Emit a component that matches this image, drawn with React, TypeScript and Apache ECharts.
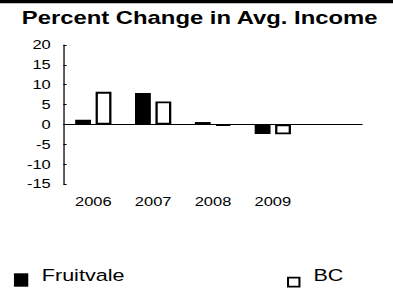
import React, { useEffect, useRef } from "react";
import * as echarts from "echarts";

const categories = ["2006", "2007", "2008", "2009", ""];
const fruitvale = [1.2, 7.9, 0.6, -2.4];
const bc = [8.2, 5.8, -0.3, -2.5];
const yTicks = { min: -15, max: 20, interval: 5 };

const FONT = "'Liberation Sans', Arial, sans-serif";
const SX = 393 / 310;

export default function App() {
  const ref = useRef<HTMLDivElement>(null);
  useEffect(() => {
    if (!ref.current) return;
    const chart = echarts.init(ref.current, undefined, { renderer: "svg" });
    const iconText = { fontFamily: FONT, fontSize: 4, color: "#000" };
    const labelText = { fontFamily: FONT, fontSize: 17, color: "#000" };
    chart.setOption({
      animation: false,
      backgroundColor: "#fff",
      textStyle: { fontFamily: FONT, color: "#000" },
      title: {
        text: "Percent Change in Avg. Income",
        left: 157.5,
        textAlign: "center",
        top: 8,
        padding: 0,
        textStyle: { fontFamily: FONT, fontSize: 18.8, fontWeight: "bold", color: "#000" },
      },
      graphic: [
        { type: "rect", left: 0, top: 0, shape: { x: 0, y: 0, width: 310, height: 3.2 }, style: { fill: "#000" } },
      ],
      legend: [
        {
          data: [{ name: "Fruitvale", itemStyle: { color: "#000", borderWidth: 0 } }],
          left: 11,
          top: 273.3,
          padding: 0,
          icon: "rect",
          itemWidth: 11.3,
          itemHeight: 13.4,
          selectedMode: false,
          formatter: () => "",
          textStyle: iconText,
        },
        {
          data: [{ name: "BC", itemStyle: { color: "#fff", borderColor: "#000", borderWidth: 1.6 } }],
          left: 226.4,
          top: 276.8,
          padding: 0,
          icon: "rect",
          itemWidth: 9,
          itemHeight: 9,
          selectedMode: false,
          formatter: () => "",
          textStyle: iconText,
        },
        {
          data: ["Fruitvale"],
          left: 28,
          top: 266.8,
          padding: 0,
          icon: "none",
          itemWidth: 0,
          itemHeight: 10,
          selectedMode: false,
          textStyle: labelText,
        },
        {
          data: ["BC"],
          left: 242.2,
          top: 266.5,
          padding: 0,
          icon: "none",
          itemWidth: 0,
          itemHeight: 10,
          selectedMode: false,
          textStyle: labelText,
        },
      ],
      grid: { left: 50, right: 24, top: 45, bottom: 104, containLabel: false },
      xAxis: {
        type: "category",
        data: categories,
        axisLine: { show: false, onZero: false },
        axisTick: { show: false },
        axisLabel: { fontFamily: FONT, fontSize: 13, color: "#000", margin: 11, interval: 0 },
        splitLine: { show: false },
      },
      yAxis: {
        type: "value",
        min: yTicks.min,
        max: yTicks.max,
        interval: yTicks.interval,
        axisLine: { show: true, lineStyle: { color: "#000", width: 1 } },
        axisTick: { show: true, inside: true, length: 2.5, lineStyle: { color: "#000", width: 1 } },
        axisLabel: { fontFamily: FONT, fontSize: 13, color: "#000", margin: 10 },
        splitLine: { show: false },
      },
      series: [
        {
          name: "Fruitvale",
          type: "bar",
          data: fruitvale,
          barWidth: 12.5,
          barGap: "29%",
          itemStyle: { color: "#000", borderColor: "#000", borderWidth: 1.8 },
          markLine: {
            silent: true,
            symbol: "none",
            label: { show: false },
            lineStyle: { color: "#000", width: 1, type: "solid" },
            data: [{ yAxis: 0 }],
          },
        },
        {
          name: "BC",
          type: "bar",
          data: bc,
          barWidth: 12.5,
          barGap: "29%",
          itemStyle: { color: "#fff", borderColor: "#000", borderWidth: 1.8 },
        },
      ],
    });
    return () => chart.dispose();
  }, []);
  return (
    <div style={{ position: "fixed", left: 0, top: 0, width: 393, height: 288, overflow: "hidden", background: "#fff" }}>
      <div
        ref={ref}
        style={{ width: 310, height: 288, transform: `scaleX(${SX})`, transformOrigin: "0 0" }}
      />
    </div>
  );
}
